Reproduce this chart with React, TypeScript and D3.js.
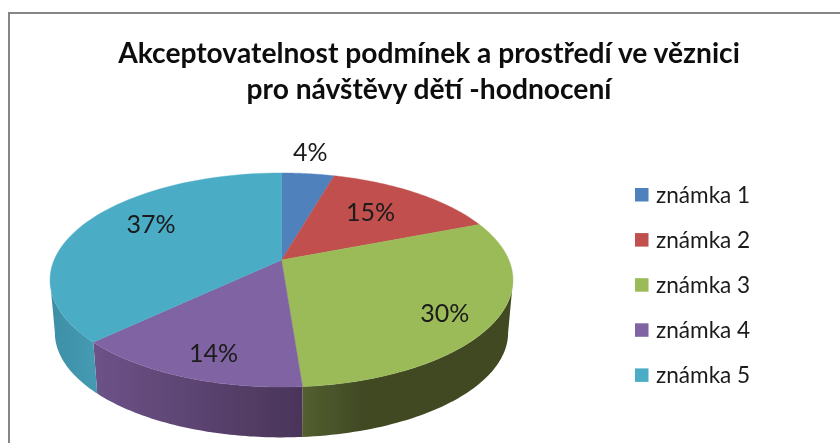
import React from "react";
import * as d3 from "d3";

// ---- data ----
const titleLines = ["Akceptovatelnost podmínek a prostředí ve věznici", "pro návštěvy dětí -hodnocení"];
const categories = ["známka 1", "známka 2", "známka 3", "známka 4", "známka 5"];
const shares = [0.044, 0.146, 0.298, 0.14, 0.372];

// ---- styling / layout ----
const colors = ["#4f81bd", "#c0504d", "#9bbb59", "#8064a2", "#4bacc6"];
const wallStops: [string, string][] = [
  ["#3f6c9f", "#3f6c9f"],
  ["#8f3b39", "#8f3b39"],
  ["#535f2f", "#3f4924"],
  ["#6d5288", "#4a3559"],
  ["#3d8fa6", "#459bb2"],
];
const wallGrad: [number, number][] = [
  [0, 840], [0, 840], [302, 365], [93, 302], [50, 97],
];
const labelAngleShift = [-1, -2, 3.4, -2.5, 8];
const labelRadius = [1.31, 0.665, 0.804, 0.811, 0.716];

const W = 840, H = 443;
const CX = 281.5, CY = 260, RX = 227.4, RY = 103.3, P = 0.187;
const BOTTOM_CY = 313, BOTTOM_SCALE = 0.979;

const project = (theta: number, r = 1, cy = CY, s = 1): [number, number] => {
  const u = r * Math.sin(theta), v = -r * Math.cos(theta);
  const w = 1 - P * v;
  return [CX + (s * RX * u) / w, cy + (s * RY * v) / w];
};
const deg = Math.PI / 180;
const line = d3.line<[number, number]>().x((d) => d[0]).y((d) => d[1]);
const samples = (a: number, b: number) => d3.range(0, 61).map((i) => a + ((b - a) * i) / 60);

const pie = d3.pie<number>().sort(null).value((d) => d)(shares);
const pct = d3.format(".0%");

// the silhouette of a projected circle is widest where cos(theta) = -P
const FRONT_A = Math.acos(-P), FRONT_B = 2 * Math.PI - Math.acos(-P);

export default function App() {
  const font = "Lato, Carlito, 'Open Sans', sans-serif";
  return (
    <svg width={W} height={H} viewBox={`0 0 ${W} ${H}`} style={{ position: "absolute", left: 0, top: 0, display: "block", background: "#fff" }}>
      <defs>
        {wallStops.map((s, i) => (
          <linearGradient key={i} id={`wall${i}`} gradientUnits="userSpaceOnUse" x1={wallGrad[i][0]} x2={wallGrad[i][1]} y1={0} y2={0}>
            <stop offset="0" stopColor={s[0]} />
            <stop offset="1" stopColor={s[1]} />
          </linearGradient>
        ))}
        <filter id="soft" x="-5%" y="-5%" width="110%" height="110%">
          <feGaussianBlur stdDeviation="0.45" />
        </filter>
      </defs>
      <g filter="url(#soft)">
        <path d={`M9,${H}V13H${W}`} fill="none" stroke="#868686" strokeWidth={2} />
        {pie.map((d, i) => {
          const a = Math.max(d.startAngle, FRONT_A), b = Math.min(d.endAngle, FRONT_B);
          if (a >= b) return null;
          const top = samples(a, b).map((t) => project(t));
          const bot = samples(b, a).map((t) => project(t, 1, BOTTOM_CY, BOTTOM_SCALE));
          return <path key={i} d={line([...top, ...bot]) + "Z"} fill={`url(#wall${i})`} />;
        })}
        {pie.map((d, i) => (
          <path key={i} d={line([[CX, CY], ...samples(d.startAngle, d.endAngle).map((t) => project(t))] as [number, number][]) + "Z"} fill={colors[i]} stroke={colors[i]} strokeWidth={0.4} />
        ))}
        {pie.map((d, i) => {
          const [x, y] = project((d.startAngle + d.endAngle) / 2 + labelAngleShift[i] * deg, labelRadius[i]);
          return (
            <text key={i} x={x} y={y} dy="0.35em" textAnchor="middle" fontFamily={font} fontSize={25} fill="#1a1a1a">
              {pct(d.data)}
            </text>
          );
        })}
        {titleLines.map((t, i) => (
          <text key={i} x={429} y={63 + i * 36} textAnchor="middle" fontFamily={font} fontWeight={700} fontSize={28.2} fill="#111">
            {t}
          </text>
        ))}
        {categories.map((c, i) => (
          <g key={c}>
            <rect x={635} y={188 + i * 45.1} width={13.5} height={13.5} fill={colors[i]} />
            <text x={656} y={195 + i * 45.1} dy="0.35em" fontFamily={font} fontSize={22.6} fill="#1a1a1a">
              {c}
            </text>
          </g>
        ))}
      </g>
    </svg>
  );
}
